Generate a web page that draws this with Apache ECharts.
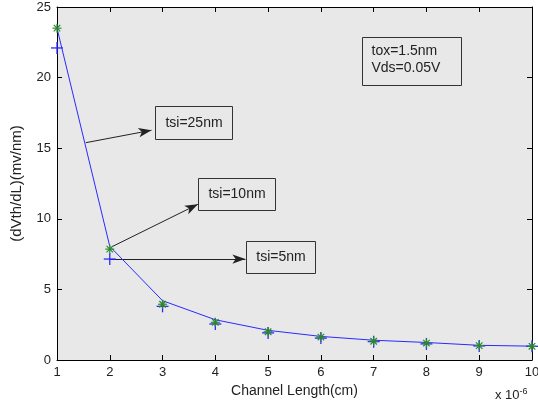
<!DOCTYPE html>
<html><head><meta charset="utf-8">
<script src="https://cdn.jsdelivr.net/npm/echarts@6/dist/echarts.min.js"></script>
<style>html,body{margin:0;padding:0;background:#fff}#c{width:538px;height:409px}</style>
</head><body><div id="c"></div>
<script>
var xValues = [1, 2, 3, 4, 5, 6, 7, 8, 9, 10];
var lineValues = [23.5, 8.05, 4.2, 2.85, 2.1, 1.67, 1.4, 1.24, 1.04, 0.98];
var starValues = [23.5, 7.85, 3.95, 2.67, 2.0, 1.62, 1.33, 1.2, 1.02, 0.97];
var plusValues = [22.1, 7.15, 3.8, 2.55, 1.92, 1.55, 1.3, 1.14, 1.0, 0.97];
var xTicks = [1, 2, 3, 4, 5, 6, 7, 8, 9, 10];
var yTicks = [0, 5, 10, 15, 20, 25];
var arrows = [
  {from: [1.544, 15.39], to: [2.79, 16.27]},
  {from: [2.04, 8.02], to: [3.67, 11.03]},
  {from: [2.0, 7.15], to: [4.57, 7.15]}
];
var boxes = [
  {lt: [2.86, 17.99], rb: [4.32, 15.65], lines: ['tsi=25nm'], align: 'center'},
  {lt: [3.67, 12.91], rb: [5.12, 10.62], lines: ['tsi=10nm'], align: 'center'},
  {lt: [4.58, 8.42], rb: [5.89, 6.14], lines: ['tsi=5nm'], align: 'center'},
  {lt: [6.78, 22.9], rb: [8.65, 19.48], lines: ['tox=1.5nm', 'Vds=0.05V'], align: 'left'}
];
var FONT = '"Liberation Sans", Arial, sans-serif';

function pts(vals){ return xValues.map(function(x,i){ return [x, vals[i]]; }); }

var chart = echarts.init(document.getElementById('c'), null, {renderer: 'canvas'});
var axisCommon = {
  type: 'value', min: 1, max: 10, interval: 1,
  axisLine: {show: true, onZero: false, lineStyle: {color: '#000', width: 1}},
  axisTick: {show: true, inside: true, length: 5, lineStyle: {color: '#000'}},
  splitLine: {show: false}
};
function markerSeries(vals, color, size, star, lw){
  return {
    type: 'custom', data: pts(vals), z: 5,
    renderItem: function(params, api){
      var p = api.coord([api.value(0), api.value(1)]);
      var h = size / 2, st = {stroke: color, lineWidth: lw};
      var kids = [
        {type: 'line', shape: {x1: p[0]-h, y1: p[1], x2: p[0]+h, y2: p[1]}, style: st},
        {type: 'line', shape: {x1: p[0], y1: p[1]-h, x2: p[0], y2: p[1]+h}, style: st}
      ];
      if (star) {
        var d = h * 0.72;
        kids.push({type: 'line', shape: {x1: p[0]-d, y1: p[1]-d, x2: p[0]+d, y2: p[1]+d}, style: st});
        kids.push({type: 'line', shape: {x1: p[0]-d, y1: p[1]+d, x2: p[0]+d, y2: p[1]-d}, style: st});
      }
      return {type: 'group', children: kids};
    }
  };
}
var option = {
  animation: false,
  backgroundColor: '#fff',
  grid: {left: 57, right: 6, top: 7, bottom: 49, show: true, backgroundColor: '#e8e8e8', borderWidth: 0,
    containLabel: false, outerBoundsMode: 'none'},
  xAxis: [
    Object.assign({}, axisCommon, {
      position: 'bottom',
      name: 'Channel Length(cm)', nameLocation: 'middle', nameGap: 22,
      nameTextStyle: {fontFamily: FONT, fontSize: 14, color: '#222'},
      axisLabel: {fontFamily: FONT, fontSize: 13, color: '#222', margin: 6,
        formatter: function(v){ return xTicks.indexOf(v) >= 0 ? String(v) : ''; }}
    }),
    Object.assign({}, axisCommon, {position: 'top', axisLabel: {show: false}})
  ],
  yAxis: [
    Object.assign({}, axisCommon, {
      min: 0, max: 25, interval: 5, position: 'left',
      name: '(dVth/dL)(mv/nm)', nameLocation: 'middle', nameGap: 33,
      nameTextStyle: {fontFamily: FONT, fontSize: 15, color: '#222'},
      axisLabel: {fontFamily: FONT, fontSize: 13, color: '#222', margin: 6,
        formatter: function(v){ return yTicks.indexOf(v) >= 0 ? String(v) : ''; }}
    }),
    Object.assign({}, axisCommon, {min: 0, max: 25, interval: 5, position: 'right', axisLabel: {show: false}})
  ],
  graphic: [{
    type: 'text', left: 495, top: 387,
    style: {rich: {a: {fontFamily: FONT, fontSize: 13, fill: '#222'}, s: {fontFamily: FONT, fontSize: 9, fill: '#222', verticalAlign: 'top', padding: [0,0,8,0]}},
      text: '{a|x 10}{s|-6}'}
  }],
  series: [
    {
      type: 'line', data: pts(lineValues), symbol: 'none', z: 4,
      lineStyle: {color: '#2a2aff', width: 1},
      markLine: {
        silent: true, symbol: ['none', 'arrow'], symbolSize: [7, 13], z: 3,
        label: {show: false},
        lineStyle: {color: '#222', width: 1, type: 'solid'},
        data: arrows.map(function(a){ return [{coord: a.from}, {coord: a.to}]; })
      }
    },
    markerSeries(plusValues, '#2a2aff', 12, false, 1.3),
    markerSeries(starValues, '#2a8a2a', 9, true, 1.2)
  ]
};
chart.setOption(option);

var g = option.graphic.slice();
boxes.forEach(function(b){
  var p1 = chart.convertToPixel({gridIndex: 0}, b.lt);
  var p2 = chart.convertToPixel({gridIndex: 0}, b.rb);
  var x = Math.round(p1[0]) + 0.5, y = Math.round(p1[1]) + 0.5;
  var w = Math.round(p2[0] - p1[0]), h = Math.round(p2[1] - p1[1]);
  g.push({type: 'rect', shape: {x: x, y: y, width: w, height: h}, style: {fill: '#e8e8e8', stroke: '#333', lineWidth: 1}, z: 10});
  if (b.align === 'center') {
    g.push({type: 'text', z: 11, style: {x: x + w/2, y: y + h/2, text: b.lines.join('\n'), textAlign: 'center', textVerticalAlign: 'middle', fontFamily: FONT, fontSize: 14, fill: '#222'}});
  } else {
    g.push({type: 'text', z: 11, style: {x: x + 9, y: y + 5, text: b.lines.join('\n'), textAlign: 'left', textVerticalAlign: 'top', fontFamily: FONT, fontSize: 14, lineHeight: 17, fill: '#222'}});
  }
});
chart.setOption({graphic: g});
</script>
</body></html>
